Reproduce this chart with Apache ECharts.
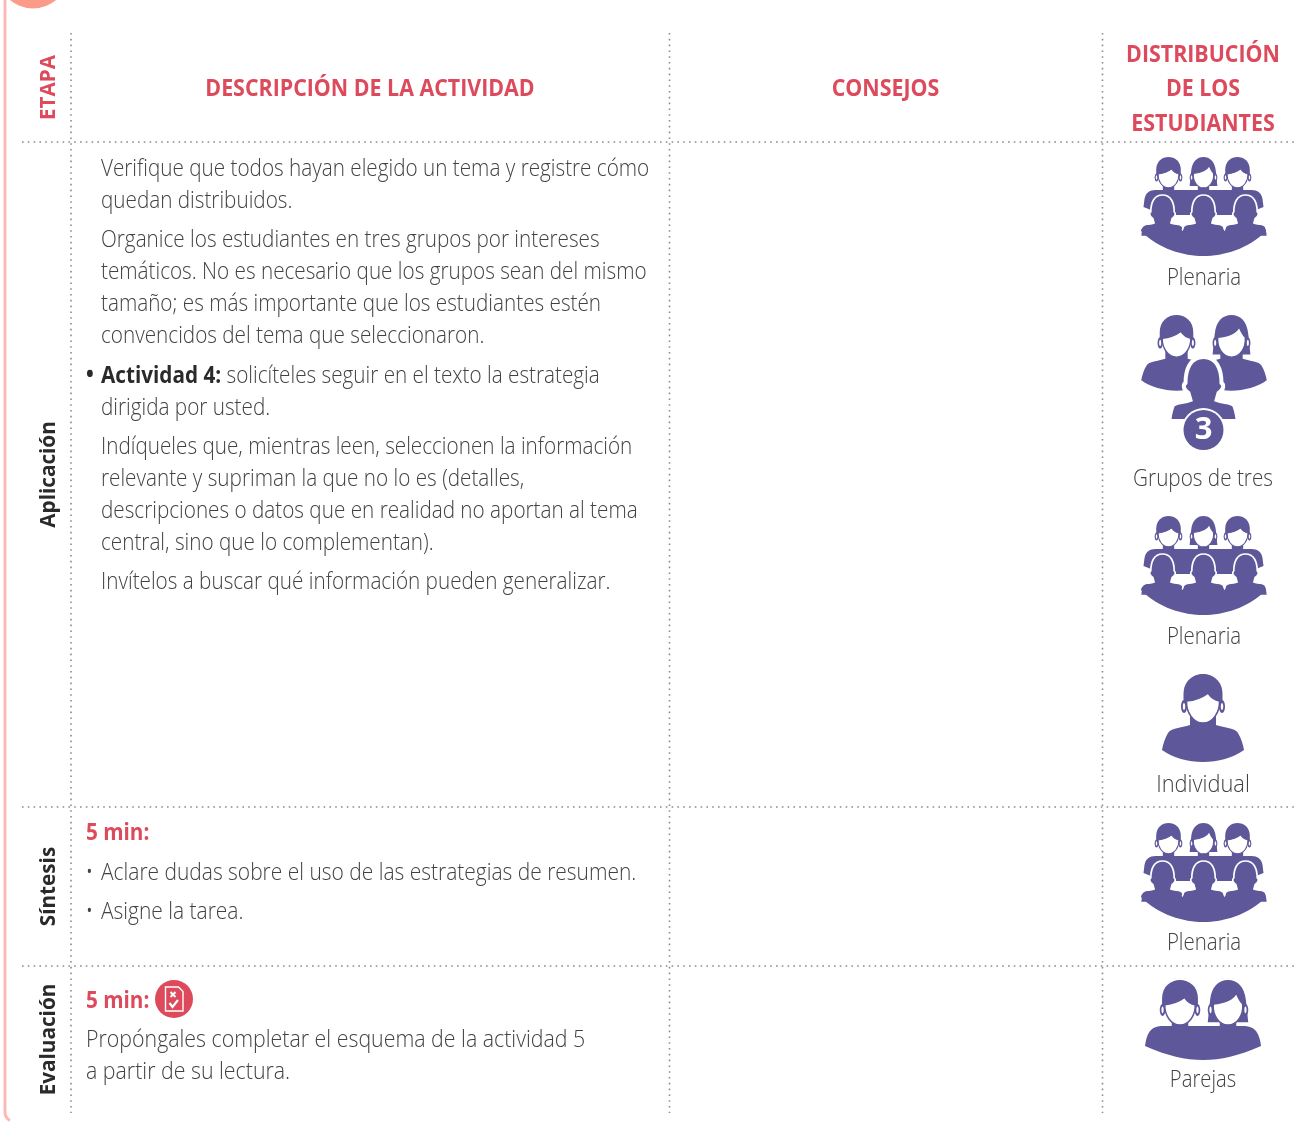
<!DOCTYPE html>
<html>
<head>
<meta charset="utf-8">
<style>html,body{margin:0;padding:0;background:#fff}#main{width:1301px;height:1122px}</style>
<script src="https://cdn.jsdelivr.net/npm/echarts@6/dist/echarts.min.js"></script>
</head>
<body>
<div id="main"></div>
<script>
// table texts
const columnHeaders = ["DESCRIPCIÓN DE LA ACTIVIDAD", "CONSEJOS"];
const distributionHeader = ["DISTRIBUCIÓN", "DE LOS", "ESTUDIANTES"];
const stageHeader = "ETAPA";
const stages = ["Aplicación", "Síntesis", "Evaluación"];
const aplicacionParagraphs = [
    ["Verifique que todos hayan elegido un tema y registre cómo", "quedan distribuidos."],
    ["Organice los estudiantes en tres grupos por intereses", "temáticos. No es necesario que los grupos sean del mismo", "tamaño; es más importante que los estudiantes estén", "convencidos del tema que seleccionaron."],
    ["{b|Actividad 4:} solicíteles seguir en el texto la estrategia", "dirigida por usted."],
    ["Indíqueles que, mientras leen, seleccionen la información", "relevante y supriman la que no lo es (detalles,", "descripciones o datos que en realidad no aportan al tema", "central, sino que lo complementan)."],
    ["Invítelos a buscar qué información pueden generalizar."]
];
const timeLabel = "5 min:";
const sintesisBullets = ["Aclare dudas sobre el uso de las estrategias de resumen.", "Asigne la tarea."];
const evaluacionLines = ["Propóngales completar el esquema de la actividad 5", "a partir de su lectura."];
const groupLabels = ["Plenaria", "Grupos de tres", "Plenaria", "Individual", "Plenaria", "Parejas"];

const RED = "#dc4a5c", PURPLE = "#5e5799", TEXT = "#424242", DARK = "#2a2a2a", DOT = "#8c8c8c";
const FONT = "'Open Sans'";
const BODY = 23;

// silhouettes, origin is the top centre of the head
const HAIR_M = "M-19.5 28L-19.5 20C-19.5 7-10 0 0 0C10 0 19.5 7 19.5 20L19.5 28L15 30L-15 30Z";
const HAIR_F = "M-22 46L-19.5 22C-18 7-10 0 0 0C10 0 18 7 19.5 22L22 46Z";
const FACE_M = "M-16.5 27C-7 26 1 22 5 19C7 22 11 26 16.5 27C17 38 10 49 0 49C-10 49-17 38-16.5 27Z";
const FACE_F = "M-16 26C-5 25 5 22 9 14C11 19 13 23 16 26C17 38 10 49 0 49C-10 49-17 38-16 26Z";
const NECK = "M-9 44L-9 56L9 56L9 44Z";
const BODY_PATH = "M-13 42L-13 51C-22 54-32 54-35 59C-38 64-40 70-41 76C-30 84-15 88 0 88C15 88 30 84 41 76C40 70 38 64 35 59C32 54 22 54 13 51L13 42Z";
const BACK_VIEW = "M0 0C13 0 18 12 18 26C21 28 20 33 15 36L13 43C20 46 28 44 31 49C33 55 34 60 34 64L-34 64C-34 60-33 55-31 49C-28 44-20 46-13 43L-15 36C-20 33-21 28-18 26C-18 12-13 0 0 0Z";
const BAND = "M-48 33L48 33C54 33 58 36 59 42L60 50L40 58L-40 58L-60 50L-59 42C-58 36-54 33-48 33Z";
const BOWL = "M-62.5 74C-62 70-58 68-54 68L-28 68C-26 69-23 71-21 74C-19 71-16 69-14 68L14 68C16 69 19 71 21 74C23 71 26 69 28 68L54 68C58 68 62 70 62.5 74C45 92 20 99 0 99C-20 99-45 92-62.5 74Z";
const PAIR_BODY = "M-58 66C-56 50-50 46-40 46L40 46C50 46 56 50 58 66C35 76 18 80 0 80C-18 80-35 76-58 66Z";

function path(d, fill, extra) {
    return Object.assign({ type: "path", shape: { pathData: d }, style: { fill: fill } }, extra || {});
}
function ear(x) {
    return [
        { type: "ellipse", shape: { cx: x, cy: 32.5, rx: 3, ry: 6.5 }, style: { fill: PURPLE } },
        { type: "ellipse", shape: { cx: x, cy: 32.5, rx: 1.2, ry: 3.6 }, style: { fill: "#fff" } }
    ];
}
function head(x, y, s, female) {
    const face = path(female ? FACE_F : FACE_M, "#fff", { style: { fill: "#fff", stroke: PURPLE, lineWidth: 1.6 } });
    return {
        type: "group", x: x, y: y, scaleX: s, scaleY: s,
        children: [].concat(
            [path(NECK, PURPLE), path(female ? HAIR_F : HAIR_M, PURPLE)],
            ear(-19), ear(19),
            [face]
        )
    };
}
function person(x, y, s, female) {
    return [
        { type: "group", x: x, y: y, scaleX: s, scaleY: s, children: [path(BODY_PATH, PURPLE)] },
        head(x, y, s, female)
    ];
}
function backView(x, y, s, lw) {
    return {
        type: "group", x: x, y: y, scaleX: s, scaleY: s,
        children: [path(BACK_VIEW, PURPLE, { style: { fill: PURPLE, stroke: "#fff", lineWidth: lw } })]
    };
}
function plenaria(x, y) {
    return {
        type: "group", x: x, y: y,
        children: [
            path(BAND, PURPLE),
            head(-35, 0, 0.63, false), head(0, 0, 0.63, true), head(34, 0, 0.63, false),
            backView(-41, 38, 0.65, 2.6), backView(42, 38, 0.65, 2.6), backView(0, 38, 0.65, 2.6),
            path(BOWL, PURPLE)
        ]
    };
}
function gruposTres(x, y) {
    return {
        type: "group", x: x, y: y,
        children: [].concat(
            person(-27, 0, 0.86, false), person(28, 0, 0.86, true),
            [backView(0, 42, 1, 4)],
            [
                { type: "circle", shape: { cx: 0, cy: 115, r: 22 }, style: { fill: "#fff" } },
                { type: "circle", shape: { cx: 0, cy: 115, r: 20 }, style: { fill: PURPLE } },
                { type: "text", x: 0, y: 115, style: { text: "3", fill: "#fff", font: "bold 31px " + FONT, align: "center", verticalAlign: "middle" } }
            ]
        )
    };
}

function txt(text, x, y, o) {
    o = o || {};
    const style = {
        text: text, fill: o.fill || TEXT, align: o.align || "left", verticalAlign: "middle",
        font: (o.weight || "300") + " " + (o.size || BODY) + "px " + FONT
    };
    if (o.rich) style.rich = o.rich;
    return { type: "text", x: x, y: y + 1.5, rotation: o.rotation || 0, scaleX: o.scaleX || 0.9, style: style };
}
function dotted(x1, y1, x2, y2) {
    return { type: "line", shape: { x1: x1, y1: y1, x2: x2, y2: y2 }, style: { stroke: DOT, lineWidth: 1.6, lineDash: [1.6, 4.2] } };
}

const els = [];

// frame and tab circle
els.push({ type: "circle", shape: { cx: 33, cy: -27, r: 35.5 }, style: { fill: "#fd9b8b" } });
els.push(path("M5 -2L5 1112C5 1116 7 1119 10 1120.5", "none", { style: { fill: "none", stroke: "#fbbab6", lineWidth: 3 } }));

// grid
[71, 669.5, 1102.5].forEach(function (x) { els.push(dotted(x, 33, x, 1113)); });
[142, 807, 966].forEach(function (y) { els.push(dotted(22, y, 1298, y)); });

// headers
const HEAD = { fill: RED, weight: "700", size: 22.5, align: "center", scaleX: 0.95 };
els.push(txt(columnHeaders[0], 370, 88, HEAD));
els.push(txt(columnHeaders[1], 885.5, 88, HEAD));
[54, 88, 123].forEach(function (y, i) { els.push(txt(distributionHeader[i], 1203, y, HEAD)); });
const SIDE = { weight: "700", size: 22, align: "center", rotation: Math.PI / 2, scaleX: 0.94 };
els.push(txt(stageHeader, 49, 86, Object.assign({ fill: RED }, SIDE)));

// stages
[473, 885, 1038].forEach(function (y, i) {
    els.push(txt(stages[i], 49, y, Object.assign({ fill: DARK }, SIDE)));
});

// Aplicacion paragraphs
const boldRich = { b: { font: "700 " + BODY + "px " + FONT, fill: DARK } };
let lineY = 168;
aplicacionParagraphs.forEach(function (lines) {
    lines.forEach(function (line, i) {
        const isRich = line.indexOf("{b|") === 0;
        els.push(txt(line, 101, lineY, isRich ? { rich: boldRich } : null));
        if (i < lines.length - 1) lineY += 32;
    });
    lineY += 39.3;
});
els.push(txt("•", 86, 374, { weight: "700", fill: DARK }));

// Sintesis
els.push(txt(timeLabel, 86, 832, { fill: RED, weight: "700", scaleX: 0.9 }));
sintesisBullets.forEach(function (line, i) {
    const y = 872 + i * 39;
    els.push(txt("•", 85.5, y));
    els.push(txt(line, 101, y, { scaleX: 0.911 }));
});

// Evaluacion
els.push(txt(timeLabel, 86, 1000, { fill: RED, weight: "700", scaleX: 0.9 }));
els.push({
    type: "group", x: 174, y: 999,
    children: [
        { type: "circle", shape: { cx: 0, cy: 0, r: 19 }, style: { fill: RED } },
        path("M-8.5 -12L4.5 -12L9 -7.5L9 12L-8.5 12Z", "none", { style: { fill: "none", stroke: "#fff", lineWidth: 1.4 } }),
        path("M-3.5 -7L1.5 -2M1.5 -7L-3.5 -2", "none", { style: { fill: "none", stroke: "#fff", lineWidth: 2 } }),
        path("M-4.5 4L-1.5 8L4 1", "none", { style: { fill: "none", stroke: "#fff", lineWidth: 2.2 } })
    ]
});
evaluacionLines.forEach(function (line, i) { els.push(txt(line, 86, 1039 + i * 32, { scaleX: 0.928 })); });

// student groups
els.push(plenaria(1203.5, 157));
els.push(gruposTres(1203.5, 315));
els.push(plenaria(1203.5, 516));
els.push.apply(els, person(1203, 674, 1, false));
els.push(plenaria(1203.5, 823));
els.push(path(PAIR_BODY, PURPLE, { x: 1203, y: 980 }));
els.push(head(1180, 980, 0.92, false));
els.push(head(1228, 980, 0.92, true));
[[1204, 277, 0.89], [1203, 478, 0.9], [1204, 636, 0.89], [1203, 784, 0.95], [1204, 942, 0.89], [1203, 1079, 0.88]].forEach(function (p, i) {
    els.push(txt(groupLabels[i], p[0], p[1], { align: "center", scaleX: p[2] }));
});

const chart = echarts.init(document.getElementById("main"), null, { renderer: "canvas" });
chart.setOption({
    animation: false,
    backgroundColor: "#fff",
    series: [{
        type: "custom",
        coordinateSystem: "none",
        silent: true,
        data: [0],
        renderItem: function () {
            return { type: "group", children: els };
        }
    }]
});
</script>
</body>
</html>
